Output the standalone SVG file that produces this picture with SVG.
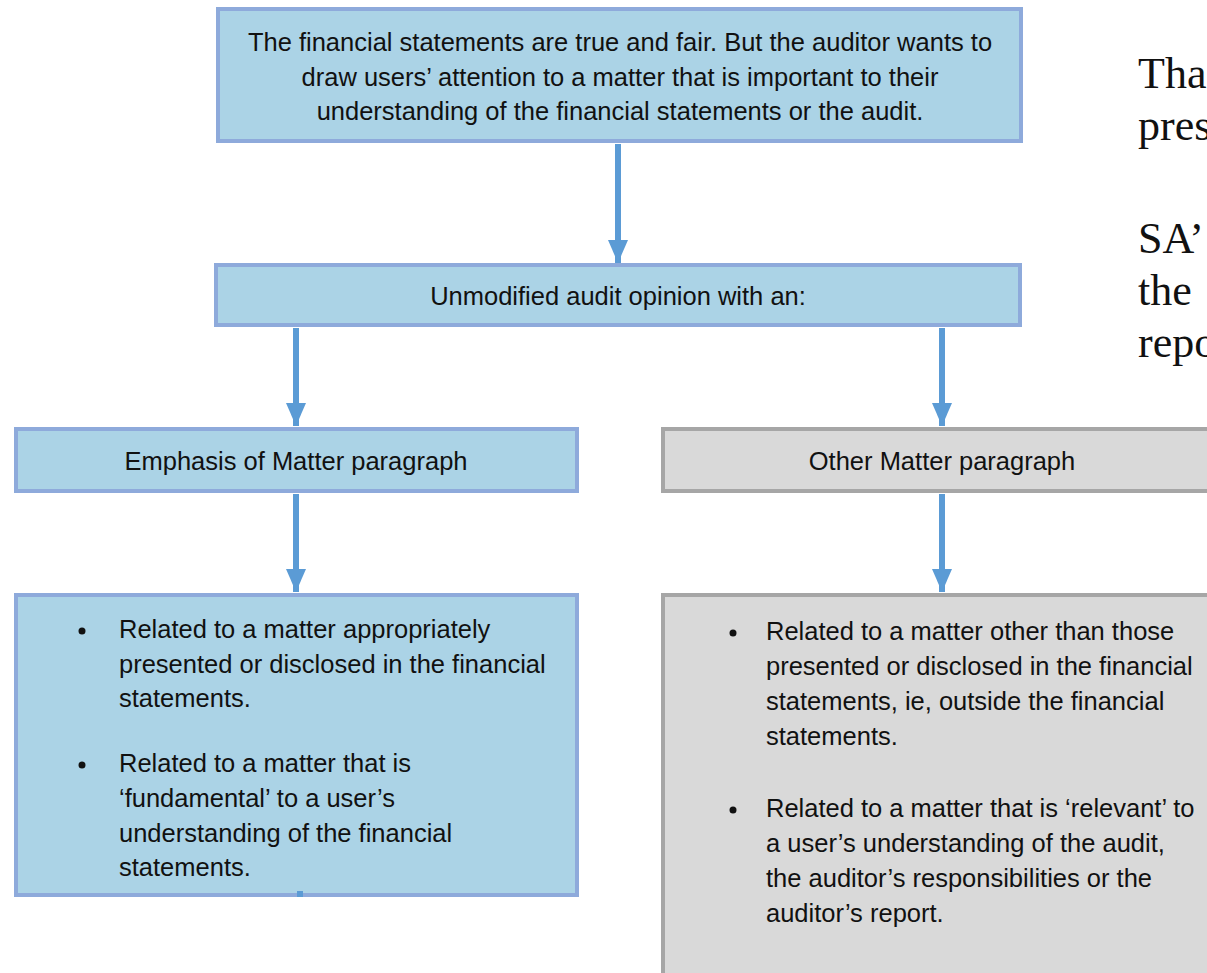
<svg xmlns="http://www.w3.org/2000/svg" width="1207" height="973" viewBox="0 0 1207 973">
  <style>
    .blue { fill: #abd3e6; stroke: #8eaadb; stroke-width: 4; }
    .grey { fill: #d9d9d9; stroke: #a6a6a6; stroke-width: 4; }
    .lbl { font-family: "Liberation Sans", Arial, sans-serif; font-size: 25.5px; fill: #111; }
    .mid { text-anchor: middle; }
    .side { font-family: "Liberation Serif", "Times New Roman", serif; font-size: 44px; fill: #111; }
    .conn { stroke: #5b9bd5; stroke-width: 6; fill: none; }
  </style>
  <defs>
    <marker id="arrow" viewBox="0 0 23 20" refX="23" refY="10" markerWidth="23" markerHeight="20" markerUnits="userSpaceOnUse" orient="auto">
      <path d="M0,0 L23,10 L0,20 Z" fill="#5b9bd5"/>
    </marker>
  </defs>
  <rect width="1207" height="973" fill="#ffffff"/>

  <!-- side commentary text running off the right edge -->
  <g id="side-text" class="side">
    <text x="1138" y="88">Tha</text>
    <text x="1138" y="140">pres</text>
    <text x="1138" y="253">SA’</text>
    <text x="1138" y="305">the</text>
    <text x="1138" y="357">repo</text>
  </g>

  <!-- connectors -->
  <g id="connectors">
    <line class="conn" x1="618" y1="144" x2="618" y2="263" marker-end="url(#arrow)"/>
    <line class="conn" x1="296" y1="328" x2="296" y2="426" marker-end="url(#arrow)"/>
    <line class="conn" x1="942" y1="328" x2="942" y2="426" marker-end="url(#arrow)"/>
    <line class="conn" x1="296" y1="494" x2="296" y2="592" marker-end="url(#arrow)"/>
    <line class="conn" x1="942" y1="494" x2="942" y2="592" marker-end="url(#arrow)"/>
  </g>

  <g id="node-situation">
    <rect class="blue" x="218" y="9" width="803" height="132"/>
    <text class="lbl mid" x="620" y="51">The financial statements are true and fair. But the auditor wants to</text>
    <text class="lbl mid" x="620" y="86">draw users’ attention to a matter that is important to their</text>
    <text class="lbl mid" x="620" y="120">understanding of the financial statements or the audit.</text>
  </g>

  <g id="node-opinion">
    <rect class="blue" x="216" y="265" width="804" height="60"/>
    <text class="lbl mid" x="618" y="305">Unmodified audit opinion with an:</text>
  </g>

  <g id="node-emphasis">
    <rect class="blue" x="16" y="429" width="561" height="62"/>
    <text class="lbl mid" x="296" y="470">Emphasis of Matter paragraph</text>
  </g>

  <g id="node-other">
    <rect class="grey" x="663" y="429" width="560" height="62"/>
    <text class="lbl mid" x="942" y="470">Other Matter paragraph</text>
  </g>

  <g id="node-emphasis-detail">
    <rect class="blue" x="16" y="595" width="561" height="300"/>
    <rect x="297" y="891" width="6" height="6" fill="#5b9bd5"/>
    <circle cx="82" cy="631" r="3.5" fill="#111"/>
    <text class="lbl" x="119" y="638">Related to a matter appropriately</text>
    <text class="lbl" x="119" y="673">presented or disclosed in the financial</text>
    <text class="lbl" x="119" y="707">statements.</text>
    <circle cx="82" cy="765" r="3.5" fill="#111"/>
    <text class="lbl" x="119" y="772">Related to a matter that is</text>
    <text class="lbl" x="119" y="807">‘fundamental’ to a user’s</text>
    <text class="lbl" x="119" y="842">understanding of the financial</text>
    <text class="lbl" x="119" y="876">statements.</text>
  </g>

  <g id="node-other-detail">
    <rect class="grey" x="663" y="595" width="560" height="400"/>
    <circle cx="733" cy="633" r="3.5" fill="#111"/>
    <text class="lbl" x="766" y="640">Related to a matter other than those</text>
    <text class="lbl" x="766" y="675">presented or disclosed in the financial</text>
    <text class="lbl" x="766" y="710">statements, ie, outside the financial</text>
    <text class="lbl" x="766" y="745">statements.</text>
    <circle cx="733" cy="810" r="3.5" fill="#111"/>
    <text class="lbl" x="766" y="817">Related to a matter that is ‘relevant’ to</text>
    <text class="lbl" x="766" y="852">a user’s understanding of the audit,</text>
    <text class="lbl" x="766" y="887">the auditor’s responsibilities or the</text>
    <text class="lbl" x="766" y="922">auditor’s report.</text>
  </g>
</svg>
